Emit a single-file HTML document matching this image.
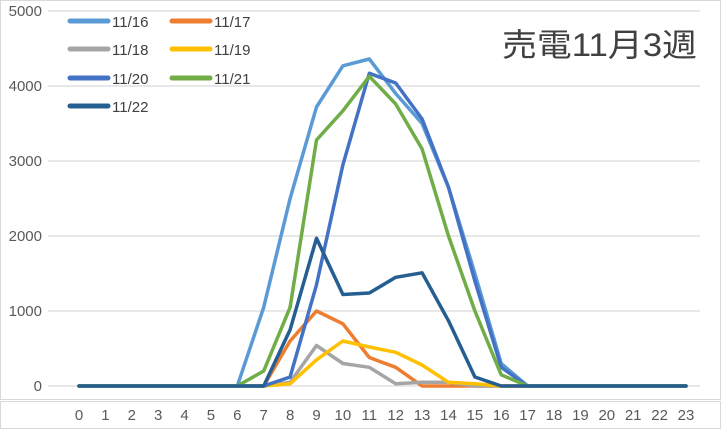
<!DOCTYPE html>
<html><head><meta charset="utf-8"><style>
html,body{margin:0;padding:0;background:#fff;}
svg{display:block;font-family:"Liberation Sans","Noto Sans CJK JP",sans-serif;}
</style></head><body>
<svg id="c" width="721" height="429" viewBox="0 0 721 429" xmlns="http://www.w3.org/2000/svg">
<rect x="0.5" y="0.5" width="720" height="399" fill="#fff" stroke="#d9d9d9"/>
<rect x="0.5" y="401.5" width="720" height="27" fill="#fff" stroke="#d9d9d9"/>
<g id="grid"></g>
<g id="series"></g>
<g id="labels" font-size="15" fill="#595959"></g>
<text x="502" y="56" font-size="32" fill="#404040" textLength="195" lengthAdjust="spacingAndGlyphs">売電11月3週</text>
<g font-size="15" fill="#404040">
<line x1="70" y1="21" x2="108" y2="21" stroke="#5b9bd5" stroke-width="5" stroke-linecap="round"/><text x="112" y="27">11/16</text>
<line x1="172" y1="21" x2="210" y2="21" stroke="#ed7d31" stroke-width="5" stroke-linecap="round"/><text x="214" y="27">11/17</text>
<line x1="70" y1="49" x2="108" y2="49" stroke="#a5a5a5" stroke-width="5" stroke-linecap="round"/><text x="112" y="55">11/18</text>
<line x1="172" y1="49" x2="210" y2="49" stroke="#ffc000" stroke-width="5" stroke-linecap="round"/><text x="214" y="55">11/19</text>
<line x1="70" y1="78" x2="108" y2="78" stroke="#4472c4" stroke-width="5" stroke-linecap="round"/><text x="112" y="84">11/20</text>
<line x1="172" y1="78" x2="210" y2="78" stroke="#70ad47" stroke-width="5" stroke-linecap="round"/><text x="214" y="84">11/21</text>
<line x1="70" y1="106" x2="108" y2="106" stroke="#255e91" stroke-width="5" stroke-linecap="round"/><text x="112" y="112">11/22</text>
</g>
</svg>
<script>
var X=function(i){return 79+i*26.39;}, Y=function(v){return 386-v*0.075;};
var g=document.getElementById('grid'),s=document.getElementById('series'),l=document.getElementById('labels');
var h='';
for(var k=0;k<=5;k++){var y=Y(k*1000);h+='<line x1="48" x2="700" y1="'+y+'" y2="'+y+'" stroke="#d9d9d9" stroke-width="1.3"/>';}
g.innerHTML=h;
var lh='';
for(var k=0;k<=5;k++){lh+='<text x="42" y="'+(Y(k*1000)+5)+'" text-anchor="end">'+(k*1000)+'</text>';}
for(var i=0;i<24;i++){lh+='<text x="'+X(i)+'" y="420" text-anchor="middle">'+i+'</text>';}
l.innerHTML=lh;
function d(m){var a=[];for(var i=0;i<24;i++)a.push(m[i]||0);return a;}
var S=[
['#5b9bd5',d({7:1050,8:2500,9:3720,10:4270,11:4360,12:3900,13:3500,14:2650,15:1500,16:300})],
['#ed7d31',d({8:600,9:1000,10:830,11:380,12:250})],
['#a5a5a5',d({8:50,9:540,10:300,11:250,12:30,13:50,14:50})],
['#ffc000',d({8:30,9:350,10:600,11:520,12:450,13:280,14:50,15:30})],
['#4472c4',d({8:120,9:1350,10:2950,11:4170,12:4040,13:3560,14:2650,15:1400,16:250})],
['#70ad47',d({7:200,8:1050,9:3280,10:3670,11:4130,12:3760,13:3160,14:2000,15:1000,16:150})],
['#255e91',d({8:750,9:1970,10:1220,11:1240,12:1450,13:1510,14:870,15:120})]
];
var sh='';
S.forEach(function(o){var p=o[1].map(function(v,i){return X(i).toFixed(1)+','+Y(v).toFixed(1);}).join(' ');
sh+='<polyline points="'+p+'" fill="none" stroke="'+o[0]+'" stroke-width="3.5" stroke-linejoin="round" stroke-linecap="round"/>';});
s.innerHTML=sh;
</script>
</body></html>
